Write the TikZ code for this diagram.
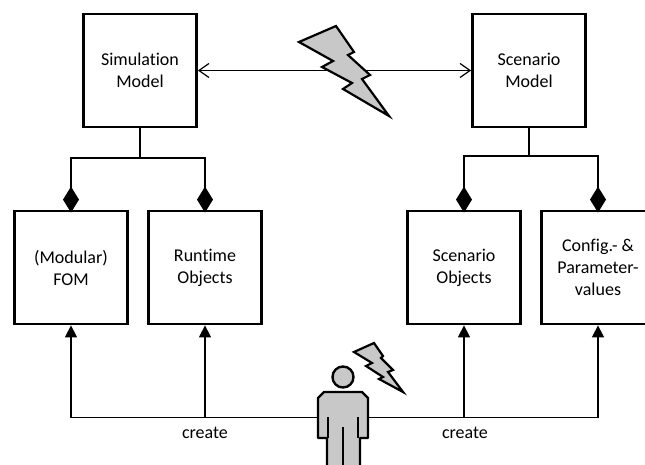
\documentclass[tikz,border=0pt]{standalone}
\usepackage{fontspec}
\setmainfont{Carlito}[RawFeature={-liga;-clig;-dlig}]
\usetikzlibrary{arrows.meta,calc}
\definecolor{boltgray}{RGB}{200,200,200}
\tikzset{
  box/.style={draw=black,line width=2.8pt,fill=white,minimum width=113pt,minimum height=113pt,inner sep=0pt,align=center,font=\fontsize{18}{22}\selectfont},
  wire/.style={draw=black,line width=2.2pt},
  thin wire/.style={draw=black,line width=1.5pt},
  part/.style={wire,shorten <=-3pt,{Diamond[length=26pt,width=16pt,fill=black]}-},
  up/.style={thin wire,-{Triangle[length=12pt,width=12pt,fill=black]}},
  both/.style={thin wire,{Straight Barb[length=10pt,width=14pt,line width=1.2pt]}-{Straight Barb[length=10pt,width=14pt,line width=1.2pt]}},
  bolt/.style={draw=black,line width=2.2pt,fill=boltgray,line join=miter,miter limit=6},
  figure/.style={draw=black,line width=2.4pt,fill=boltgray,line join=round},
  lbl/.style={font=\fontsize{18}{22}\selectfont,inner sep=0pt}
}
\begin{document}
\begin{tikzpicture}[x=1pt,y=-1pt]
\useasboundingbox (0,0) rectangle (645,465);
\clip (0,0) rectangle (645,465);
\node[box] (sim) at (140,70.5) {Simulation\\Model};
\node[box] (scm) at (529,70.5) {Scenario\\Model};
\node[box] (fom) at (71,267.5) {(Modular)\\FOM};
\node[box] (rto) at (205,267.5) {Runtime\\Objects};
\node[box] (sco) at (464,267.5) {Scenario\\Objects};
\node[box] (cfg) at (598,267.5) {Config.- \&\\Parameter-\\values};
\coordinate (simj) at (140,158);
\coordinate (scmj) at (529,156);
\coordinate (busl) at (71,417.5);
\coordinate (busm) at (205,417.5);
\coordinate (busn) at (464,417.5);
\coordinate (busr) at (598,417.5);
% aggregation
\draw[wire] (sim.south) -- (simj);
\draw[wire] (scm.south) -- (scmj);
\draw[part] (fom.north) -- (fom.north |- simj) -- (simj);
\draw[part] (rto.north) -- (rto.north |- simj) -- (simj);
\draw[part] (sco.north) -- (sco.north |- scmj) -- (scmj);
\draw[part] (cfg.north) -- (cfg.north |- scmj) -- (scmj);
% association
\draw[both] (sim.east) -- (scm.west);
% create
\draw[thin wire] (busl) -- (busr);
\draw[up] (busl) -- (fom.south);
\draw[up] (busm) -- (rto.south);
\draw[up] (busn) -- (sco.south);
\draw[up] (busr) -- (cfg.south);
\node[lbl] (c1) at (205,433) {create};
\node[lbl] (c2) at (465,433) {create};
% large bolt
\draw[bolt] (336,26) -- (299,42) -- (333,61) -- (322,67) -- (352,83) -- (343,89) -- (389,116) -- (362,79) -- (370,75) -- (348,55) -- (354,52) -- cycle;
% small bolt
\draw[bolt] (374,343) -- (354,352) -- (372,363) -- (366,366) -- (383,377) -- (379,379) -- (403,392) -- (388,372) -- (393,370) -- (381,358) -- (383,356) -- cycle;
% person
\draw[figure] (343,377) circle (10.5);
\draw[figure] (324,392) -- (362,392) -- (368,398) -- (368,438) -- (360,438) -- (360,470) -- (327,470) -- (327,438) -- (318,438) -- (318,398) -- cycle;
\draw[line width=2.6pt] (328,417) -- (328,438);
\draw[line width=2.6pt] (358,417) -- (358,438);
\draw[line width=2.6pt] (343,427) -- (343,470);
\end{tikzpicture}
\end{document}
